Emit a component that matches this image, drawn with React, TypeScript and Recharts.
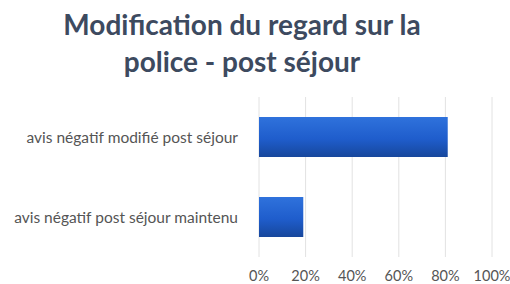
import { BarChart, Bar, XAxis, YAxis, CartesianGrid } from 'recharts'

const categories = ['avis négatif modifié post séjour', 'avis négatif post séjour maintenu']
const shares = [81, 19]
const xTicks = [0, 20, 40, 60, 80, 100]
const titleLines = ['Modification du regard sur la', 'police - post séjour']

const data = categories.map((name, i) => ({ name, value: shares[i] }))

const FONT = 'Lato, "Open Sans", sans-serif'

export default function App() {
  return (
    <div style={{ position: 'absolute', left: 0, top: 0, width: 510, height: 284, background: '#fff', fontFamily: FONT }}>
      <div
        style={{
          position: 'absolute',
          left: 0,
          top: 6,
          width: 484,
          textAlign: 'center',
          color: '#3d4a5f',
          fontWeight: 700,
          fontSize: 28,
          lineHeight: '37px',
        }}
      >
        {titleLines.map((l) => (
          <div key={l}>{l}</div>
        ))}
      </div>
      <BarChart
        width={510}
        height={284}
        data={data}
        layout="vertical"
        margin={{ top: 97, right: 18, bottom: 0, left: 0 }}
      >
        <defs>
          <linearGradient id="barFill" x1="0" y1="0" x2="0" y2="1">
            <stop offset="0%" stopColor="#2f72dc" />
            <stop offset="55%" stopColor="#1f5dcc" />
            <stop offset="100%" stopColor="#17479c" />
          </linearGradient>
        </defs>
        <CartesianGrid horizontal={false} stroke="#e2e2e2" fill="none" />
        <XAxis
          type="number"
          domain={[0, 100]}
          ticks={xTicks}
          tickFormatter={(v: number) => `${v}%`}
          axisLine={false}
          tickLine={false}
          tickMargin={8}
          height={27}
          tick={{ fontSize: 14.5, fill: '#555', fontFamily: FONT }}
          interval={0}
        />
        <YAxis
          type="category"
          dataKey="name"
          width={259}
          axisLine={false}
          tickLine={false}
          tickMargin={15}
          tick={{ fontSize: 15.5, fill: '#555', fontFamily: FONT }}
        />
        <Bar dataKey="value" fill="url(#barFill)" barSize={40} isAnimationActive={false} />
      </BarChart>
    </div>
  )
}
